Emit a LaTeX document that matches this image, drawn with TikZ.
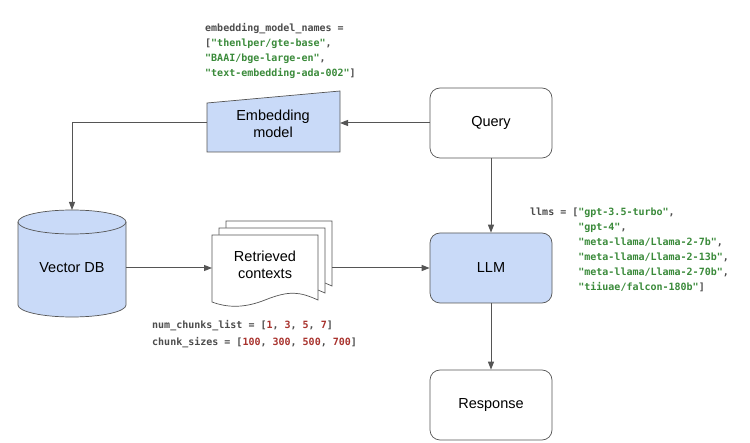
\documentclass[tikz,border=0pt]{standalone}
\usepackage{fontspec}
\setmainfont{Liberation Sans}
\newfontfamily\codefont{DejaVu Sans Mono}
\usetikzlibrary{arrows.meta,shapes.geometric}
\definecolor{boxblue}{HTML}{C9DAF8}
\definecolor{strgreen}{HTML}{3A8A3A}
\definecolor{numred}{HTML}{A8322D}
\definecolor{linegray}{HTML}{555555}
\newcommand{\gs}[1]{\textcolor{strgreen}{#1}}
\newcommand{\rn}[1]{\textcolor{numred}{#1}}
\begin{document}
\begin{tikzpicture}[x=1pt,y=-1pt,
  box/.style={draw=linegray,line width=0.7pt,rounded corners=10pt,minimum width=122pt,minimum height=70pt,font=\fontsize{14.5}{17}\selectfont,align=center},
  lbl/.style={font=\fontsize{14.5}{17}\selectfont,align=center},
  conn/.style={draw=linegray,line width=1pt,-{Triangle[length=8pt,width=6pt]}},
  code/.style={font=\codefont\bfseries\fontsize{10}{15}\selectfont,align=left,anchor=north west,inner sep=0pt,text=black!70}]
\useasboundingbox (0,0) rectangle (750,443);
% Query, LLM, Response
\node[box] (query) at (491,123) {Query};
\node[box,fill=boxblue] (llm) at (491,268) {LLM};
\node[box] (resp) at (491,405) {Response};
% Embedding model trapezoid
\fill[boxblue] (207,103) -- (340,91) -- (340,152) -- (207,152) -- cycle;
\draw[linegray,line width=0.7pt] (207,103) -- (340,91) -- (340,152) -- (207,152) -- cycle;
\node[lbl] (emb) at (273,124) {Embedding\\model};
\coordinate (embR) at (340,123);
\coordinate (embL) at (207,123);
% Vector DB cylinder
\fill[boxblue] (18,222) -- (18,305) arc[start angle=180,end angle=0,x radius=54,y radius=12] -- (126,222) -- cycle;
\fill[boxblue] (72,222) ellipse[x radius=54,y radius=12];
\draw[linegray,line width=0.7pt] (18,222) -- (18,305) arc[start angle=180,end angle=0,x radius=54,y radius=12] -- (126,222);
\draw[linegray,line width=0.7pt] (72,222) ellipse[x radius=54,y radius=12];
\node[lbl] (vdb) at (72,268) {Vector DB};
\coordinate (vdbT) at (72,210);
\coordinate (vdbR) at (126,268);
% Retrieved contexts
\foreach \d in {14,7,0}{
  \draw[linegray,line width=0.7pt,fill=white] (212+\d,235-\d) -- (318+\d,235-\d) -- (318+\d,300-\d)
   .. controls (300+\d,292-\d) and (290+\d,290-\d) .. (265+\d,300-\d)
   .. controls (245+\d,308-\d) and (228+\d,308-\d) .. (212+\d,302-\d) -- cycle;
}
\node[lbl] (ctx) at (265,265) {Retrieved\\contexts};
\coordinate (ctxL) at (212,268);
\coordinate (ctxR) at (332,268);
% connectors
\draw[conn] (query.west) -- (embR);
\draw[conn] (embL) -| (vdbT);
\draw[conn] (vdbR) -- (ctxL);
\draw[conn] (ctxR) -- (llm.west);
\draw[conn] (query.south) -- (llm.north);
\draw[conn] (llm.south) -- (resp.north);
% code labels
\node[code] (c1) at (205,23) {embedding\_model\_names =\\{}[\gs{"thenlper/gte-base"},\\\gs{"BAAI/bge-large-en"},\\\gs{"text-embedding-ada-002"}]};
\node[code] (c2) at (530,208) {llms = [\gs{"gpt-3.5-turbo"},\\\phantom{llms = [}\gs{"gpt-4"},\\\phantom{llms = [}\gs{"meta-llama/Llama-2-7b"},\\\phantom{llms = [}\gs{"meta-llama/Llama-2-13b"},\\\phantom{llms = [}\gs{"meta-llama/Llama-2-70b"},\\\phantom{llms = [}\gs{"tiiuae/falcon-180b"}]};
\node[code,font=\codefont\bfseries\fontsize{10}{17}\selectfont] (c3) at (152,320) {num\_chunks\_list = [\rn{1}, \rn{3}, \rn{5}, \rn{7}]\\chunk\_sizes = [\rn{100}, \rn{300}, \rn{500}, \rn{700}]};
\end{tikzpicture}
\end{document}
